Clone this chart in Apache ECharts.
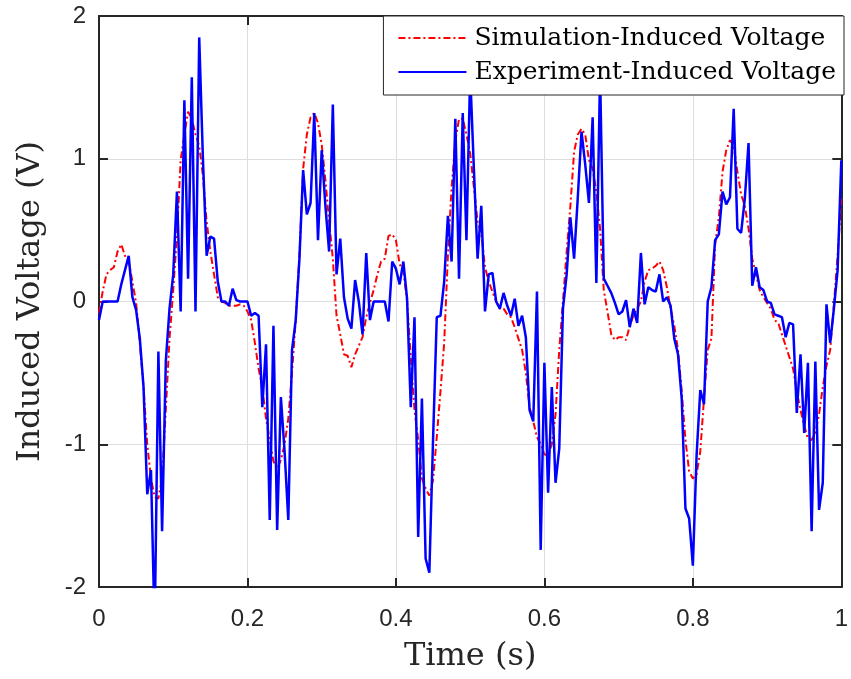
<!DOCTYPE html>
<html>
  <head>
    <meta charset="utf-8">
    <title>Induced Voltage</title>
    <script src="https://cdn.jsdelivr.net/npm/echarts@6/dist/echarts.min.js"></script>
    <style>
      body { margin: 0px; background: white; }
      #chart { width: 851px; height: 679px; }
    </style>
  </head>
  <body>
    <div id="chart"></div>
  </body>
</html>
<script type="text/javascript">
  // sampled every 5 ms, from 0 s to 1 s
  const sampleStep = 0.005
  const seriesNames = ['Simulation-Induced Voltage', 'Experiment-Induced Voltage']
  const xTicks = [0, 0.2, 0.4, 0.6, 0.8, 1]
  const yTicks = [-2, -1, 0, 1, 2]

  const simVoltage = [
    -0.08, 0.07, 0.19, 0.22, 0.24, 0.35, 0.40, 0.32, 0.28, 0.14,
    -0.01, -0.29, -0.6, -1.0, -1.24, -1.37, -1.38, -1.24, -0.76, -0.26,
    0.08, 0.46, 0.99, 1.17, 1.33, 1.28, 1.17, 1.09, 0.88, 0.56,
    0.35, 0.19, 0.03, 0.0, -0.01, -0.03, -0.03, -0.03, -0.02, -0.03,
    -0.07, -0.13, -0.29, -0.47, -0.6, -0.82, -0.97, -1.12, -1.17, -1.11,
    -1.0, -0.82, -0.5, -0.13, 0.32, 0.93, 1.17, 1.29, 1.32, 1.25,
    1.1, 0.85, 0.56, 0.3, -0.1, -0.23, -0.37, -0.38, -0.46, -0.37,
    -0.31, -0.25, -0.11, -0.01, 0.08, 0.19, 0.28, 0.3, 0.46, 0.47,
    0.43, 0.26, 0.22, 0.0, -0.39, -0.76, -0.97, -1.24, -1.31, -1.36,
    -1.25, -0.95, -0.63, -0.29, 0.32, 0.8, 1.12, 1.28, 1.28, 1.17,
    1.04, 0.8, 0.56, 0.48, 0.24, 0.14, 0.07, 0.0, -0.05, -0.05,
    -0.09, -0.11, -0.18, -0.26, -0.34, -0.5, -0.74, -0.84, -0.95, -1.0,
    -1.07, -1.08, -1.0, -0.79, -0.34, 0.0, 0.35, 0.67, 1.05, 1.17,
    1.21, 1.17, 0.99, 0.93, 0.77, 0.51, 0.08, -0.07, -0.23, -0.27,
    -0.25, -0.25, -0.27, -0.17, -0.1, -0.05, 0.0, 0.14, 0.22, 0.23,
    0.25, 0.28, 0.22, 0.1, -0.05, -0.17, -0.34, -0.63, -0.97, -1.19,
    -1.24, -1.21, -1.05, -0.68, -0.34, -0.26, 0.4, 0.59, 0.91, 1.06,
    1.13, 1.09, 0.91, 0.75, 0.67, 0.51, 0.3, 0.19, 0.08, 0.03,
    -0.01, -0.05, -0.13, -0.15, -0.23, -0.31, -0.39, -0.47, -0.63, -0.76,
    -0.87, -0.96, -0.97, -0.92, -0.79, -0.6, -0.45, -0.34, -0.02, 0.32,
    0.72
  ]

  const expVoltage = [
    -0.13, 0, 0, 0, 0, 0, 0.12, 0.22, 0.32, 0.03,
    -0.06, -0.26, -0.6, -1.35, -1.18, -2.3, -0.35, -1.61, -0.42, -0.05,
    0.19, 0.77, -0.07, 1.41, 0.16, 1.57, -0.07, 1.85, 1.0, 0.32,
    0.455, 0.44, 0.14, 0, 0, -0.03, 0.09, 0.01, 0, 0,
    0, -0.1, -0.08, -0.1, -0.74, -0.3, -1.53, -0.17, -1.6, -0.67,
    -1.05, -1.53, -0.34, -0.13, 0.30, 0.92, 0.61, 0.69, 1.32, 0.43,
    1.06, 0.67, 0.35, 1.38, 0.19, 0.44, 0.03, -0.12, -0.19, 0.15,
    0, -0.23, 0.34, -0.13, 0, 0, 0, 0, -0.14, 0.28,
    0.23, 0.12, 0.28, 0.02, -0.74, -0.11, -1.65, -0.68, -1.8, -1.9,
    -0.97, -0.11, -0.1, 0.14, 0.6, 0.28, 1.28, 0.16, 1.32, 0.43,
    1.6, 0.93, 0.30, 0.67, -0.07, 0.19, 0.2, 0, -0.05, 0.06,
    -0.03, -0.1, 0.02, -0.17, -0.1, -0.25, -0.76, -0.84, 0.07, -1.74,
    -0.43, -1.34, -0.6, -1.27, -1.03, -0.05, 0.19, 0.59, 0.3, 0.73,
    1.19, 0.96, 0.69, 1.29, 0.13, 1.6, 0.16, 0.11, 0.06, -0.01,
    -0.09, -0.07, 0.01, -0.18, -0.05, -0.15, 0.34, -0.02, 0.1, 0.08,
    0.07, 0.19, 0, 0.03, -0.03, -0.26, -0.37, -0.68, -1.45, -1.52,
    -1.85, -1.08, -0.62, -0.72, 0, 0.1, 0.43, 0.47, 0.77, 0.68,
    0.73, 1.35, 0.51, 0.48, 0.72, 1.11, 0.11, 0.24, 0.1, 0.08,
    0, -0.01, -0.09, -0.1, -0.11, -0.25, -0.15, -0.16, -0.78, -0.37,
    -0.92, -0.43, -1.61, -0.42, -1.46, -1.27, -0.02, -0.29, -0.05, 0.22,
    0.99
  ]

  const toPairs = (values) => values.map((v, i) => [+(i * sampleStep).toFixed(3), v])

  const axisColor = '#262626'
  const serif = '"DejaVu Serif", "Liberation Serif", serif'
  const sans = '"Liberation Sans", Arial, sans-serif'

  const myChart = echarts.init(document.getElementById('chart'))

  const xBase = {
    type: 'value',
    min: xTicks[0],
    max: xTicks[xTicks.length - 1],
    interval: xTicks[1] - xTicks[0],
    axisLine: { show: true, onZero: false, lineStyle: { color: axisColor, width: 2 } },
    axisTick: { show: true, inside: true, length: 9, lineStyle: { color: axisColor, width: 2 } }
  }
  const yBase = {
    type: 'value',
    min: yTicks[0],
    max: yTicks[yTicks.length - 1],
    interval: yTicks[1] - yTicks[0],
    axisLine: { show: true, onZero: false, lineStyle: { color: axisColor, width: 2 } },
    axisTick: { show: true, inside: true, length: 9, lineStyle: { color: axisColor, width: 2 } }
  }

  let option = {
    backgroundColor: '#ffffff',
    animation: false,
    grid: { left: 99, right: 7, top: 16, bottom: 92 },
    legend: {
      data: seriesNames,
      orient: 'vertical',
      right: 7,
      top: 16,
      itemWidth: 68,
      itemHeight: 14,
      itemGap: 4,
      padding: [7, 8, 8, 14],
      backgroundColor: '#ffffff',
      borderColor: axisColor,
      borderWidth: 1,
      itemStyle: { opacity: 0 },
      textStyle: { fontFamily: serif, fontSize: 25, lineHeight: 30, color: '#000000', padding: [0, 0, 0, 3] }
    },
    xAxis: [
      Object.assign({}, xBase, {
        position: 'bottom',
        name: 'Time (s)',
        nameLocation: 'middle',
        nameGap: 54,
        nameTextStyle: { fontFamily: serif, fontSize: 32, color: axisColor },
        axisLabel: { show: true, margin: 20, fontFamily: sans, fontSize: 24, color: axisColor },
        splitLine: { show: true, lineStyle: { color: '#dedede', width: 1 } }
      }),
      Object.assign({}, xBase, {
        position: 'top',
        axisLabel: { show: false },
        splitLine: { show: false }
      })
    ],
    yAxis: [
      Object.assign({}, yBase, {
        position: 'left',
        name: 'Induced Voltage (V)',
        nameLocation: 'middle',
        nameGap: 52,
        nameTextStyle: { fontFamily: serif, fontSize: 32, color: axisColor },
        axisLabel: { show: true, margin: 13, fontFamily: sans, fontSize: 24, color: axisColor },
        splitLine: { show: true, lineStyle: { color: '#dedede', width: 1 } }
      }),
      Object.assign({}, yBase, {
        position: 'right',
        axisLabel: { show: false },
        splitLine: { show: false }
      })
    ],
    series: [
      {
        name: seriesNames[0],
        type: 'line',
        xAxisIndex: 0,
        yAxisIndex: 0,
        symbol: 'none',
        clip: true,
        lineStyle: { color: '#ff0000', width: 2, type: [7, 3, 2, 3] },
        itemStyle: { color: '#ff0000' },
        data: toPairs(simVoltage)
      },
      {
        name: seriesNames[1],
        type: 'line',
        xAxisIndex: 0,
        yAxisIndex: 0,
        symbol: 'none',
        clip: true,
        lineStyle: { color: '#0000ff', width: 2.5 },
        itemStyle: { color: '#0000ff' },
        data: toPairs(expVoltage)
      }
    ]
  }

  myChart.setOption(option)
</script>
